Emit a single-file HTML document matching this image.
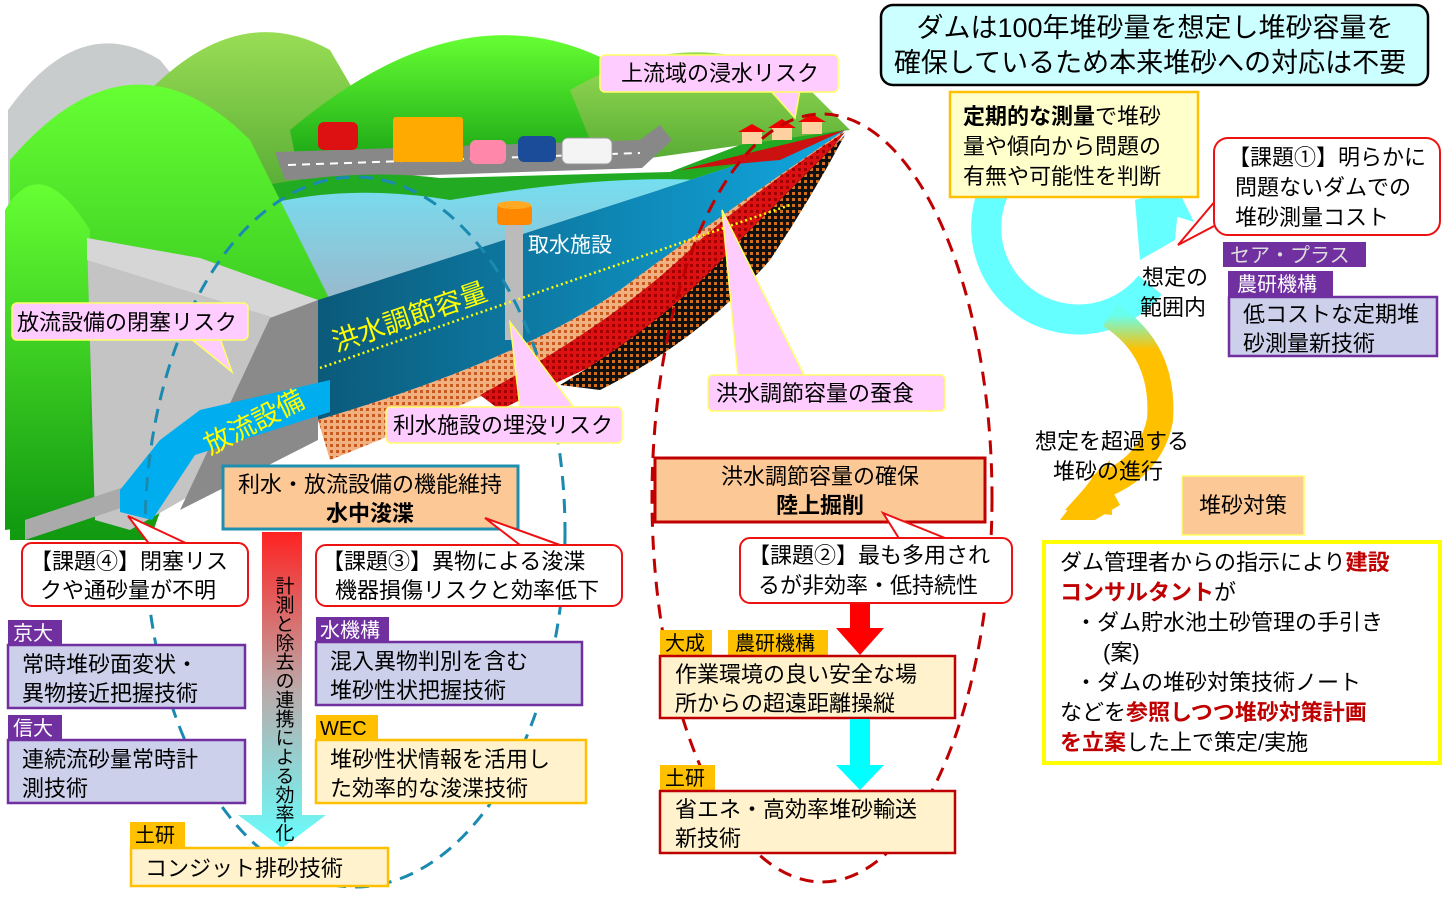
<!DOCTYPE html>
<html><head><meta charset="utf-8">
<style>
html,body{margin:0;padding:0;background:#fff;}
svg{display:block;}
text{font-family:"Liberation Sans","Noto Sans CJK JP",sans-serif;}
</style></head>
<body>
<svg width="1443" height="898" viewBox="0 0 1443 898" xmlns="http://www.w3.org/2000/svg">
<defs>
<linearGradient id="hillG" x1="0" y1="0" x2="0" y2="1"><stop offset="0" stop-color="#66ff33"/><stop offset="1" stop-color="#119911"/></linearGradient>
<linearGradient id="hillB" x1="0" y1="0" x2="0" y2="1"><stop offset="0" stop-color="#99dd55"/><stop offset="1" stop-color="#55aa33"/></linearGradient>
<linearGradient id="water" x1="0" y1="0" x2="1" y2="0"><stop offset="0" stop-color="#0b5a7a"/><stop offset="1" stop-color="#11a8e0"/></linearGradient>
<linearGradient id="surf" x1="0" y1="0" x2="0" y2="1"><stop offset="0" stop-color="#66eeff"/><stop offset="1" stop-color="#9ab8cc"/></linearGradient>
<linearGradient id="varrow" x1="0" y1="0" x2="0" y2="1"><stop offset="0" stop-color="#ff2222"/><stop offset="0.5" stop-color="#bbaaaa"/><stop offset="1" stop-color="#66ffff"/></linearGradient>
<linearGradient id="oarrow" x1="0" y1="0" x2="0" y2="1"><stop offset="0" stop-color="#66ffee"/><stop offset="0.2" stop-color="#ffc000"/><stop offset="1" stop-color="#ffc000"/></linearGradient>
<pattern id="sand" width="6" height="6" patternUnits="userSpaceOnUse"><rect width="6" height="6" fill="#f0b080"/><rect width="3" height="3" fill="#c85a20"/></pattern>
<pattern id="redp" width="6" height="6" patternUnits="userSpaceOnUse"><rect width="6" height="6" fill="#dd1111"/><rect width="3" height="3" fill="#a00000"/></pattern>
<pattern id="blk" width="6" height="6" patternUnits="userSpaceOnUse"><rect width="6" height="6" fill="#111"/><rect width="3" height="3" fill="#d07020"/></pattern>
</defs>

<!-- hills -->
<path d="M8,110 Q80,10 160,60 L250,170 L8,300 Z" fill="#c8cccc"/>
<path d="M150,90 Q240,0 330,50 L400,170 L200,200 Z" fill="url(#hillB)"/>
<path d="M290,130 Q480,-30 640,80 L700,150 L300,180 Z" fill="url(#hillG)"/>
<path d="M570,90 Q690,20 800,80 L850,130 L600,165 Z" fill="url(#hillB)"/>
<!-- road -->
<path d="M275,152 L640,140 L660,125 L672,140 L642,168 L285,180 Z" fill="#888"/>
<path d="M288,165 L640,153" stroke="#fff" stroke-width="2" stroke-dasharray="8,6"/>
<!-- cars -->
<rect x="318" y="122" width="40" height="28" rx="6" fill="#dd1111"/>
<rect x="393" y="117" width="70" height="45" rx="3" fill="#ffaa00"/>
<rect x="470" y="140" width="36" height="24" rx="6" fill="#ff88aa"/>
<rect x="518" y="136" width="38" height="26" rx="6" fill="#1a4c99"/>
<rect x="562" y="138" width="50" height="26" rx="6" fill="#f4f4f4" stroke="#999"/>
<!-- green front band -->
<path d="M200,200 Q330,165 440,178 L670,172 L740,145 L845,130 L700,185 L300,230 Z" fill="#22aa22"/>
<!-- water surface -->
<path d="M230,215 Q330,180 450,200 Q600,175 700,180 L845,130 L318,300 L160,260 Z" fill="url(#surf)"/>
<!-- left front hills -->
<path d="M10,160 Q130,20 250,140 L345,330 L200,400 L150,540 L10,540 Z" fill="url(#hillG)"/>
<path d="M5,210 Q40,150 90,230 L90,520 L5,530 Z" fill="url(#hillG)"/>
<!-- dam -->
<path d="M87,238 L318,300 L318,430 L235,470 L130,530 L95,520 Z" fill="#c4c4c4"/>
<path d="M87,238 L200,258 L318,300 L275,318 L87,260 Z" fill="#d6d6d6"/>
<path d="M270,318 L318,300 L318,440 L180,510 Z" fill="#8a8a8a"/>
<path d="M25,520 L130,485 L130,505 L25,540 Z" fill="#aaa"/>
<!-- water front -->
<path d="M318,300 L845,130 L820,160 Q700,230 620,290 Q520,360 318,420 Z" fill="url(#water)"/>
<!-- sediment -->
<path d="M318,420 Q520,360 620,290 Q700,230 845,130 L800,180 Q700,280 600,340 Q480,400 330,460 Z" fill="url(#sand)"/>
<path d="M480,395 Q620,320 700,240 Q770,180 845,132 L800,190 Q730,270 650,340 Q560,380 500,410 Z" fill="url(#redp)"/>
<path d="M560,385 Q670,320 740,240 Q800,180 845,135 Q810,200 770,260 Q700,340 600,390 Z" fill="url(#blk)"/>
<path d="M680,170 Q760,150 845,130 L780,160 Q720,165 680,170 Z" fill="#cc1111"/>
<!-- outflow chute -->
<path d="M330,380 L200,410 L160,440 L120,490 L120,512 L152,520 L195,455 L330,412 Z" fill="#00aeef"/>
<!-- intake tower -->
<rect x="505" y="220" width="18" height="120" fill="#bbb"/>
<rect x="497" y="205" width="35" height="20" rx="4" fill="#ff8800"/>
<ellipse cx="514" cy="205" rx="17" ry="4" fill="#ffaa22"/>
<!-- houses -->
<rect x="742" y="132" width="20" height="12" fill="#ffd0a0"/><path d="M738,132 L752,124 L766,132 Z" fill="#e00"/>
<rect x="772" y="128" width="20" height="12" fill="#ffd0a0"/><path d="M768,128 L782,119 L796,128 Z" fill="#e00"/>
<rect x="802" y="122" width="20" height="12" fill="#ffd0a0"/><path d="M798,122 L812,114 L826,122 Z" fill="#e00"/>
<!-- dotted line -->
<path d="M320,368 L790,205" stroke="#ffff00" stroke-width="2.5" stroke-dasharray="2,3"/>
<text x="0" y="0" font-size="27" fill="#ffff00" transform="translate(336,352) rotate(-19)">洪水調節容量</text>
<text x="0" y="0" font-size="27" fill="#ffff00" transform="translate(210,455) rotate(-27)">放流設備</text>
<text x="528" y="252" font-size="21" fill="#fff">取水施設</text>

<!-- dashed ellipses -->
<ellipse cx="355" cy="532" rx="210" ry="355" fill="none" stroke="#1a8ab0" stroke-width="3" stroke-dasharray="14,9"/>
<ellipse cx="822" cy="498" rx="170" ry="384" fill="none" stroke="#c00000" stroke-width="3" stroke-dasharray="14,9"/>

<!-- pink callouts -->
<g stroke="#ffff66" stroke-width="1.5" fill="#ffccff">
<path d="M770,90 L795,118 L800,90 Z"/>
<rect x="600" y="55" width="238" height="37" rx="5"/>
<path d="M190,338 L232,372 L220,338 Z"/>
<rect x="12" y="303" width="236" height="37" rx="5"/>
<path d="M738,377 L722,210 L805,377 Z"/>
<rect x="708" y="375" width="237" height="36" rx="5"/>
<path d="M520,409 L510,322 L575,409 Z"/>
<rect x="386" y="407" width="236" height="36" rx="5"/>
</g>
<g stroke="none" fill="#ffccff">
<rect x="602" y="57" width="234" height="33"/><rect x="14" y="305" width="232" height="33"/>
<rect x="710" y="377" width="233" height="32"/><rect x="388" y="409" width="232" height="32"/>
</g>
<g font-size="22" fill="#000">
<text x="621" y="81">上流域の浸水リスク</text>
<text x="17" y="330">放流設備の閉塞リスク</text>
<text x="716" y="401">洪水調節容量の蚕食</text>
<text x="393" y="433">利水施設の埋没リスク</text>
</g>

<!-- orange boxes -->
<rect x="223" y="466" width="295" height="63" fill="#fcc896" stroke="#1f8faf" stroke-width="3"/>
<text x="370" y="492" font-size="22" text-anchor="middle">利水・放流設備の機能維持</text>
<text x="370" y="521" font-size="22" font-weight="bold" text-anchor="middle">水中浚渫</text>
<rect x="655" y="458" width="330" height="64" fill="#fcc896" stroke="#c00000" stroke-width="3"/>
<text x="820" y="484" font-size="22" text-anchor="middle">洪水調節容量の確保</text>
<text x="820" y="513" font-size="22" font-weight="bold" text-anchor="middle">陸上掘削</text>

<!-- vertical arrow -->
<path d="M262,532 L302,532 L302,815 L326,815 L282,848 L238,815 L262,815 Z" fill="url(#varrow)"/>
<text x="283" y="576" font-size="19" style="writing-mode:vertical-rl" text-anchor="start">計測と除去の連携による効率化</text>

<!-- red callouts -->
<g fill="#fff" stroke="#ee1111" stroke-width="2">
<path d="M150,545 L128,516 L190,545 Z"/>
<rect x="22" y="543" width="226" height="63" rx="10"/>
<path d="M520,545 L485,518 L560,545 Z"/>
<rect x="316" y="545" width="306" height="61" rx="10"/>
<path d="M900,540 L883,513 L950,540 Z"/>
<rect x="740" y="538" width="272" height="65" rx="10"/>
<path d="M1216,200 L1178,245 L1216,225 Z"/>
<rect x="1214" y="138" width="226" height="97" rx="14"/>
</g>
<g fill="#fff"><rect x="152" y="545" width="36" height="4"/><rect x="522" y="547" width="36" height="4"/><rect x="902" y="540" width="46" height="4"/><rect x="1216" y="202" width="4" height="21"/></g>
<g font-size="22">
<text x="30" y="569">【課題④】閉塞リス</text><text x="40" y="598">クや通砂量が不明</text>
<text x="322" y="569">【課題③】異物による浚渫</text><text x="335" y="598">機器損傷リスクと効率低下</text>
<text x="748" y="563">【課題②】最も多用され</text><text x="758" y="593">るが非効率・低持続性</text>
<text x="1228" y="165">【課題①】明らかに</text><text x="1235" y="195">問題ないダムでの</text><text x="1235" y="225">堆砂測量コスト</text>
</g>

<!-- tech boxes left -->
<rect x="8" y="620" width="54" height="25" fill="#7030a0"/><text x="13" y="640" font-size="20" fill="#fff">京大</text>
<rect x="8" y="645" width="237" height="63" fill="#ccd0ea" stroke="#7030a0" stroke-width="2.5"/>
<text x="22" y="672" font-size="22">常時堆砂面変状・</text><text x="22" y="701" font-size="22">異物接近把握技術</text>
<rect x="8" y="715" width="54" height="25" fill="#7030a0"/><text x="13" y="735" font-size="20" fill="#fff">信大</text>
<rect x="8" y="740" width="237" height="63" fill="#ccd0ea" stroke="#7030a0" stroke-width="2.5"/>
<text x="22" y="767" font-size="22">連続流砂量常時計</text><text x="22" y="796" font-size="22">測技術</text>
<rect x="316" y="617" width="73" height="25" fill="#7030a0"/><text x="320" y="637" font-size="20" fill="#fff">水機構</text>
<rect x="316" y="642" width="266" height="63" fill="#ccd0ea" stroke="#7030a0" stroke-width="2.5"/>
<text x="330" y="669" font-size="22">混入異物判別を含む</text><text x="330" y="698" font-size="22">堆砂性状把握技術</text>
<rect x="316" y="715" width="62" height="25" fill="#ffc000"/><text x="320" y="735" font-size="20">WEC</text>
<rect x="316" y="740" width="270" height="63" fill="#fff2cc" stroke="#ffc000" stroke-width="2.5"/>
<text x="330" y="767" font-size="22">堆砂性状情報を活用し</text><text x="330" y="796" font-size="22">た効率的な浚渫技術</text>
<rect x="130" y="822" width="55" height="26" fill="#ffc000"/><text x="135" y="842" font-size="20">土研</text>
<rect x="131" y="848" width="257" height="38" fill="#fff2cc" stroke="#ffc000" stroke-width="2.5"/>
<text x="145" y="876" font-size="22">コンジット排砂技術</text>

<!-- middle arrows & boxes -->
<path d="M850,604 L870,604 L870,628 L884,628 L860,655 L836,628 L850,628 Z" fill="#ff0000"/>
<rect x="660" y="630" width="52" height="25" fill="#ffc000"/><text x="665" y="650" font-size="20">大成</text>
<rect x="728" y="630" width="100" height="25" fill="#ffc000"/><text x="735" y="650" font-size="20">農研機構</text>
<rect x="660" y="656" width="295" height="62" fill="#fff2cc" stroke="#c00000" stroke-width="2.5"/>
<text x="675" y="682" font-size="22">作業環境の良い安全な場</text><text x="675" y="711" font-size="22">所からの超遠距離操縦</text>
<path d="M850,719 L870,719 L870,765 L884,765 L860,790 L836,765 L850,765 Z" fill="#00ffff"/>
<rect x="660" y="765" width="55" height="25" fill="#ffc000"/><text x="665" y="785" font-size="20">土研</text>
<rect x="660" y="791" width="295" height="62" fill="#fff2cc" stroke="#c00000" stroke-width="2.5"/>
<text x="675" y="817" font-size="22">省エネ・高効率堆砂輸送</text><text x="675" y="846" font-size="22">新技術</text>

<!-- right side -->
<rect x="881" y="5" width="547" height="80" rx="12" fill="#ccffff" stroke="#000" stroke-width="2.5"/>
<text x="1155" y="37" font-size="27" text-anchor="middle">ダムは100年堆砂量を想定し堆砂容量を</text>
<text x="1150" y="72" font-size="27" text-anchor="middle">確保しているため本来堆砂への対応は不要</text>

<!-- circular arrow -->
<path d="M1150,170 A92,92 0 1 0 1150,285" fill="none" stroke="#66ffff" stroke-width="30"/>
<path d="M1110,315 Q1165,350 1160,420 Q1150,470 1095,488" fill="none" stroke="url(#oarrow)" stroke-width="26"/>
<path d="M1100,468 L1060,520 L1095,520 L1120,505 Z" fill="#ffc000"/>
<path d="M1065,510 L1110,460 L1112,515 Z" fill="#ffc000"/>
<path d="M1142,215 L1178,190 L1194,222 L1172,215 L1160,240 Z" fill="#66ffff"/>
<path d="M1135,200 L1180,188 L1175,240 L1140,260 Z" fill="#66ffff"/>

<rect x="950" y="92" width="248" height="105" fill="#ffffcc" stroke="#ffc000" stroke-width="2.5"/>
<text x="963" y="124" font-size="22"><tspan font-weight="bold">定期的な測量</tspan>で堆砂</text>
<text x="963" y="154" font-size="22">量や傾向から問題の</text>
<text x="963" y="184" font-size="22">有無や可能性を判断</text>

<text x="1142" y="285" font-size="22">想定の</text>
<text x="1140" y="315" font-size="22">範囲内</text>
<rect x="1223" y="242" width="143" height="25" fill="#7030a0"/><text x="1230" y="262" font-size="20" fill="#ddd">セア・プラス</text>
<rect x="1228" y="271" width="105" height="26" fill="#7030a0"/><text x="1237" y="291" font-size="20" fill="#fff">農研機構</text>
<rect x="1229" y="297" width="208" height="59" fill="#ccd0ea" stroke="#7030a0" stroke-width="2.5"/>
<text x="1243" y="322" font-size="22">低コストな定期堆</text><text x="1243" y="351" font-size="22">砂測量新技術</text>

<text x="1035" y="449" font-size="22">想定を超過する</text>
<text x="1053" y="479" font-size="22">堆砂の進行</text>
<rect x="1182" y="476" width="122" height="59" fill="#fcc896" stroke="#ffff66" stroke-width="1.5"/>
<text x="1243" y="513" font-size="22" text-anchor="middle">堆砂対策</text>

<rect x="1044" y="542" width="396" height="221" fill="#fff" stroke="#ffff00" stroke-width="4"/>
<g font-size="22">
<text x="1060" y="570">ダム管理者からの指示により<tspan fill="#c00000" font-weight="bold">建設</tspan></text>
<text x="1060" y="600" fill="#c00000" font-weight="bold">コンサルタント<tspan fill="#000" font-weight="normal">が</tspan></text>
<text x="1075" y="630">・ダム貯水池土砂管理の手引き</text>
<text x="1103" y="660">(案)</text>
<text x="1075" y="690">・ダムの堆砂対策技術ノート</text>
<text x="1060" y="720">などを<tspan fill="#c00000" font-weight="bold">参照しつつ堆砂対策計画</tspan></text>
<text x="1060" y="750"><tspan fill="#c00000" font-weight="bold">を立案</tspan>した上で策定/実施</text>
</g>
</svg>
</body></html>
